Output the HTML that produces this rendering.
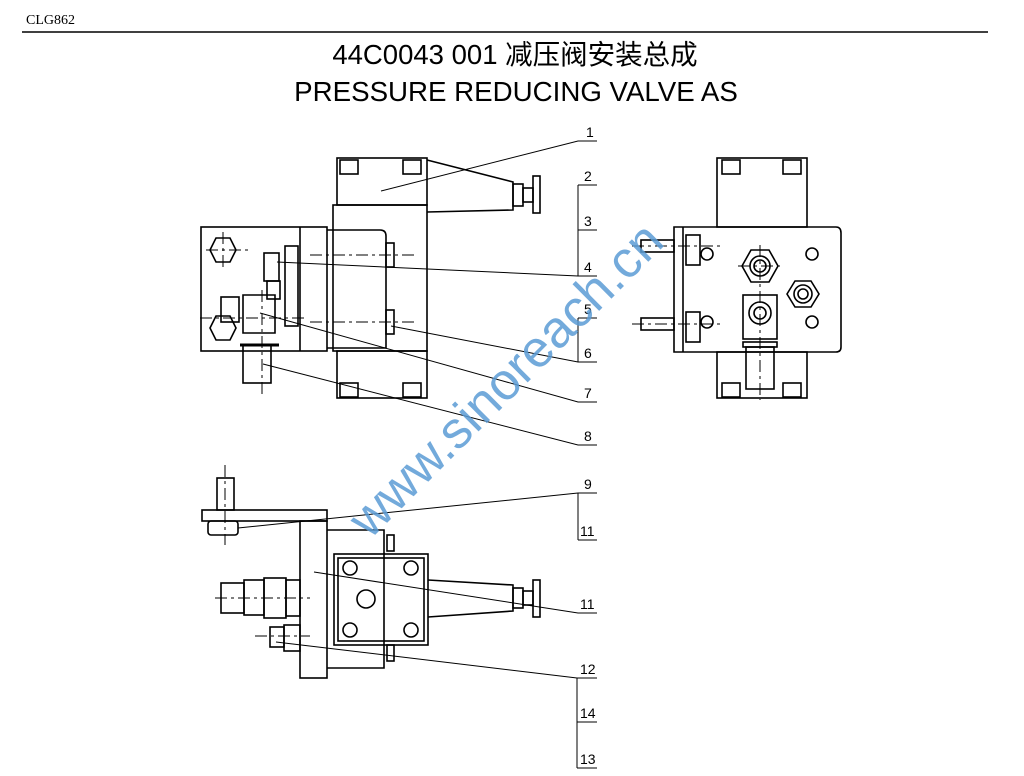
<!DOCTYPE html>
<html><head><meta charset="utf-8"><style>
body{margin:0;background:#fff;width:1024px;height:776px;overflow:hidden}
svg{display:block}
</style></head><body>
<svg width="1024" height="776" viewBox="0 0 1024 776" xmlns="http://www.w3.org/2000/svg">
<text x="26" y="24" font-family="Liberation Serif, serif" font-size="14">CLG862</text>
<line x1="22" y1="32" x2="988" y2="32" stroke="#000" stroke-width="1.5"/>
<text x="515" y="64" text-anchor="middle" font-family="Liberation Sans, 'Noto Sans CJK SC', sans-serif" font-size="27.5">44C0043 001  减压阀安装总成</text>
<text x="516" y="101" text-anchor="middle" font-family="Liberation Sans, sans-serif" font-size="27.7">PRESSURE REDUCING VALVE AS</text>

<g fill="none" stroke="#000" stroke-width="1.6">
<!-- FRONT VIEW -->
<rect x="337" y="158" width="90" height="47"/>
<rect x="340" y="160" width="18" height="14"/><rect x="403" y="160" width="18" height="14"/>
<rect x="333" y="205" width="94" height="146"/>
<rect x="337" y="351" width="90" height="47"/>
<rect x="340" y="383" width="18" height="14"/><rect x="403" y="383" width="18" height="14"/>
<path d="M427 160 L513 182 L513 210 L427 212"/>
<rect x="513" y="184" width="10" height="22"/><rect x="523" y="188" width="10" height="14"/>
<rect x="533" y="176" width="7" height="37"/>
<rect x="201" y="227" width="126" height="124"/>
<line x1="300" y1="227" x2="300" y2="351"/>
<path d="M327 230 L380 230 Q386 230 386 236 L386 348 L327 348"/>
<rect x="386" y="243" width="8" height="24"/><rect x="386" y="310" width="8" height="24"/>
<polygon points="210,250 216,238 230,238 236,250 230,262 216,262"/>
<polygon points="210,328 216,316 230,316 236,328 230,340 216,340"/>
<rect x="264" y="253" width="15" height="28"/><rect x="267" y="281" width="13" height="18"/>
<rect x="285" y="246" width="13" height="80"/>
<rect x="221" y="297" width="18" height="25"/>
<path d="M243 295 L275 295 L275 333 L243 333 Z"/>
<rect x="243" y="345" width="28" height="38"/>
<line x1="240" y1="345" x2="279" y2="345" stroke-width="3"/>
<!-- SIDE VIEW -->
<rect x="717" y="158" width="90" height="69"/>
<rect x="722" y="160" width="18" height="14"/><rect x="783" y="160" width="18" height="14"/>
<path d="M674 227 L836 227 Q841 227 841 233 L841 347 Q841 352 836 352 L674 352 Z"/>
<line x1="683" y1="227" x2="683" y2="352"/>
<rect x="717" y="352" width="90" height="46"/>
<rect x="722" y="383" width="18" height="14"/><rect x="783" y="383" width="18" height="14"/>
<rect x="686" y="235" width="14" height="30"/><rect x="686" y="312" width="14" height="30"/>
<rect x="641" y="240" width="33" height="12"/><rect x="641" y="318" width="33" height="12"/>
<circle cx="707" cy="254" r="6"/><circle cx="812" cy="254" r="6"/>
<circle cx="707" cy="322" r="6"/><circle cx="812" cy="322" r="6"/>
<polygon points="742,266 751,250 769,250 778,266 769,282 751,282"/><circle cx="760" cy="266" r="10"/><circle cx="760" cy="266" r="6"/>
<polygon points="787,294 795,281 811,281 819,294 811,307 795,307"/><circle cx="803" cy="294" r="9"/><circle cx="803" cy="294" r="5"/>
<rect x="743" y="295" width="34" height="44"/><circle cx="760" cy="313" r="11"/><circle cx="760" cy="313" r="6"/>
<rect x="743" y="342" width="34" height="5"/>
<rect x="746" y="347" width="28" height="42"/>
<!-- BOTTOM VIEW -->
<rect x="217" y="478" width="17" height="32"/>
<rect x="202" y="510" width="125" height="11"/>
<rect x="208" y="521" width="30" height="14" rx="3"/>
<rect x="300" y="521" width="27" height="157"/>
<path d="M327 530 L384 530 L384 668 L327 668"/>
<rect x="387" y="535" width="7" height="16"/><rect x="387" y="645" width="7" height="16"/>
<rect x="334" y="554" width="94" height="91"/>
<rect x="338" y="558" width="86" height="83"/>
<circle cx="350" cy="568" r="7"/><circle cx="411" cy="568" r="7"/>
<circle cx="350" cy="630" r="7"/><circle cx="411" cy="630" r="7"/>
<circle cx="366" cy="599" r="9"/>
<path d="M428 580 L513 585 L513 611 L428 617"/>
<rect x="513" y="588" width="10" height="20"/><rect x="523" y="591" width="10" height="14"/>
<rect x="533" y="580" width="7" height="37"/>
<rect x="221" y="583" width="23" height="30"/><rect x="244" y="580" width="20" height="35"/>
<rect x="264" y="578" width="22" height="40"/><rect x="286" y="580" width="14" height="36"/>
<rect x="270" y="627" width="14" height="20"/><rect x="284" y="625" width="16" height="26"/>
</g>
<g fill="none" stroke="#000" stroke-width="1" stroke-dasharray="12,4,3,4">
<line x1="310" y1="255" x2="415" y2="255"/><line x1="310" y1="322" x2="415" y2="322"/>
<line x1="206" y1="250" x2="248" y2="250"/><line x1="223" y1="232" x2="223" y2="268"/>
<line x1="262" y1="290" x2="262" y2="395"/><line x1="200" y1="318" x2="305" y2="318"/>
<line x1="760" y1="245" x2="760" y2="400"/><line x1="738" y1="266" x2="782" y2="266"/>
<line x1="632" y1="246" x2="720" y2="246"/><line x1="632" y1="324" x2="720" y2="324"/>
<line x1="225" y1="465" x2="225" y2="545"/>
<line x1="215" y1="598" x2="310" y2="598"/><line x1="255" y1="636" x2="310" y2="636"/>
</g>
<g fill="none" stroke="#000" stroke-width="1">
<polyline points="381,191 578,141 597,141"/>
<polyline points="277,262 578,276 597,276"/>
<polyline points="391,326 578,362 597,362"/>
<polyline points="260,313 578,402 597,402"/>
<polyline points="263,364 578,445 597,445"/>
<polyline points="578,185 597,185"/><line x1="578" y1="185" x2="578" y2="276"/><line x1="578" y1="230" x2="597" y2="230"/>
<line x1="578" y1="318" x2="578" y2="362"/><line x1="578" y1="318" x2="597" y2="318"/>
<polyline points="238,528 578,493 597,493"/>
<line x1="578" y1="493" x2="578" y2="540"/><line x1="578" y1="540" x2="597" y2="540"/>
<polyline points="314,572 578,613 597,613"/>
<polyline points="276,642 577,678 597,678"/>
<line x1="577" y1="678" x2="577" y2="768"/><line x1="577" y1="722" x2="597" y2="722"/><line x1="577" y1="768" x2="597" y2="768"/>
</g>
<g font-family="Liberation Sans, sans-serif" font-size="14" fill="#000">
<text x="586" y="137">1</text><text x="584" y="181">2</text><text x="584" y="226">3</text><text x="584" y="272">4</text>
<text x="584" y="314">5</text><text x="584" y="358">6</text><text x="584" y="398">7</text><text x="584" y="441">8</text>
<text x="584" y="489">9</text><text x="580" y="536">11</text><text x="580" y="609">11</text><text x="580" y="674">12</text>
<text x="580" y="718">14</text><text x="580" y="764">13</text>
</g>
<text x="0" y="0" transform="translate(518,392) rotate(-45)" text-anchor="middle" font-family="Liberation Sans, sans-serif" font-size="52" fill="#5b9bd5" fill-opacity="0.85">www.sinoreach.cn</text>
</svg>
</body></html>
